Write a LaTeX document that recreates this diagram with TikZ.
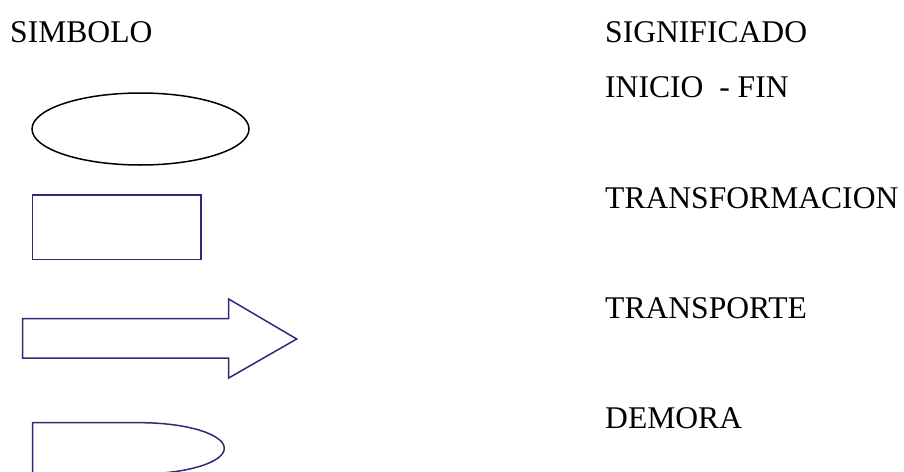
\documentclass[tikz,border=0pt]{standalone}
\usepackage{fontspec}
\setmainfont{Liberation Serif}
\usetikzlibrary{shapes.geometric}
\definecolor{navyline}{RGB}{42,44,122}
\tikzset{
  label text/.style={anchor=base west, inner sep=0pt, font=\fontsize{31.6}{38}\selectfont},
  symline/.style={draw=navyline, line width=1.5pt},
}
\begin{document}
\begin{tikzpicture}[x=1pt,y=-1pt]
\useasboundingbox (0,0) rectangle (904,471);
\clip (0,0) rectangle (904,471);
% headers
\node[label text] (simbolo) at (10,42.7) {SIMBOLO};
\node[label text] (signif) at (605,42.7) {SIGNIFICADO};
\node[label text] (inicio) at (605,97.3) {INICIO\ \ - FIN};
\node[label text] (transf) at (605,208.3) {TRANSFORMACION};
\node[label text] (transp) at (605,318.3) {TRANSPORTE};
\node[label text] (demora) at (605,428.3) {DEMORA};
% symbols
\node[ellipse, draw=black, line width=1.5pt, minimum width=217pt, minimum height=72pt, inner sep=0pt] (ell) at (140.5,129) {};
\node[rectangle, symline, minimum width=168.5pt, minimum height=64.3pt, inner sep=0pt] (rect) at (116.9,227.2) {};
\draw[symline, line join=miter] (22.7,318.7) -- (228.7,318.7) -- (228.7,299) -- (296.7,339)
  -- (228.7,378) -- (228.7,358) -- (22.7,358) -- cycle;
\draw[symline] (32.7,480) -- (32.7,422.7) -- (140,422.7) arc[start angle=-90, end angle=90, x radius=84.3, y radius=25.6] -- (32.7,473.9);
\end{tikzpicture}
\end{document}
